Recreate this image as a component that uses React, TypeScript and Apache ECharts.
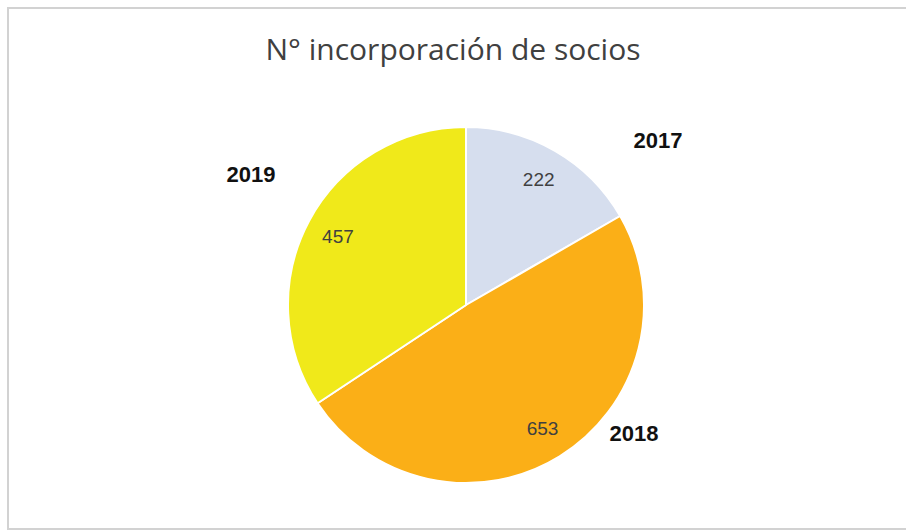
import React, { useEffect, useRef } from "react";
import * as echarts from "echarts";

const TITLE = "N° incorporación de socios";
const CATEGORIES = ["2017", "2018", "2019"];
const VALUES = [222, 653, 457];
const COLORS = ["#D6DEEE", "#FBAF17", "#F0E91A"];

const CX = 466;
const CY = 305;
const R = 178;
// offsets of the outer category labels from the pie centre
const NAME_OFFSETS: [number, number][] = [
  [192, -165],
  [168, 128],
  [-215, -131],
];

export default function App() {
  const ref = useRef<HTMLDivElement>(null);
  useEffect(() => {
    document.body.style.margin = "0";
    if (!ref.current) return;
    const chart = echarts.init(ref.current, undefined, { renderer: "svg" });
    const data = CATEGORIES.map((c, i) => ({
      name: c,
      value: VALUES[i],
      itemStyle: { color: COLORS[i] },
    }));
    const nameTexts = CATEGORIES.map((c, i) => ({
      type: "text",
      x: CX + NAME_OFFSETS[i][0],
      y: CY + NAME_OFFSETS[i][1],
      silent: true,
      style: {
        text: c,
        align: "center",
        verticalAlign: "middle",
        fontFamily: "Liberation Sans",
        fontSize: 22,
        fontWeight: "bold",
        fill: "#111111",
      },
    }));
    chart.setOption({
      animation: false,
      backgroundColor: "#ffffff",
      title: {
        text: TITLE,
        left: "center",
        top: 28,
        textStyle: {
          fontFamily: "Open Sans",
          fontSize: 30,
          fontWeight: "normal",
          color: "#404040",
        },
      },
      graphic: [
        {
          type: "rect",
          shape: { x: 8, y: 8, width: 920, height: 521 },
          style: { fill: "none", stroke: "#d2d2d2", lineWidth: 2 },
          silent: true,
        },
        ...nameTexts,
      ],
      series: [
        {
          type: "pie",
          center: [CX, CY],
          radius: R,
          startAngle: 90,
          clockwise: true,
          silent: true,
          label: { show: false },
          labelLine: { show: false },
          itemStyle: { borderColor: "#ffffff", borderWidth: 2 },
          data,
        },
        {
          type: "pie",
          center: [CX, CY],
          radius: [R * 0.6, R],
          startAngle: 90,
          clockwise: true,
          silent: true,
          itemStyle: { color: "transparent", opacity: 0 },
          label: {
            show: true,
            position: "inside",
            formatter: "{c}",
            fontFamily: "Liberation Sans",
            fontSize: 19,
            color: "#404040",
            opacity: 1,
          },
          labelLine: { show: false },
          data: CATEGORIES.map((c, i) => ({ name: c, value: VALUES[i] })),
        },
      ],
    });
    return () => chart.dispose();
  }, []);
  return <div ref={ref} style={{ width: 906, height: 531 }} />;
}
